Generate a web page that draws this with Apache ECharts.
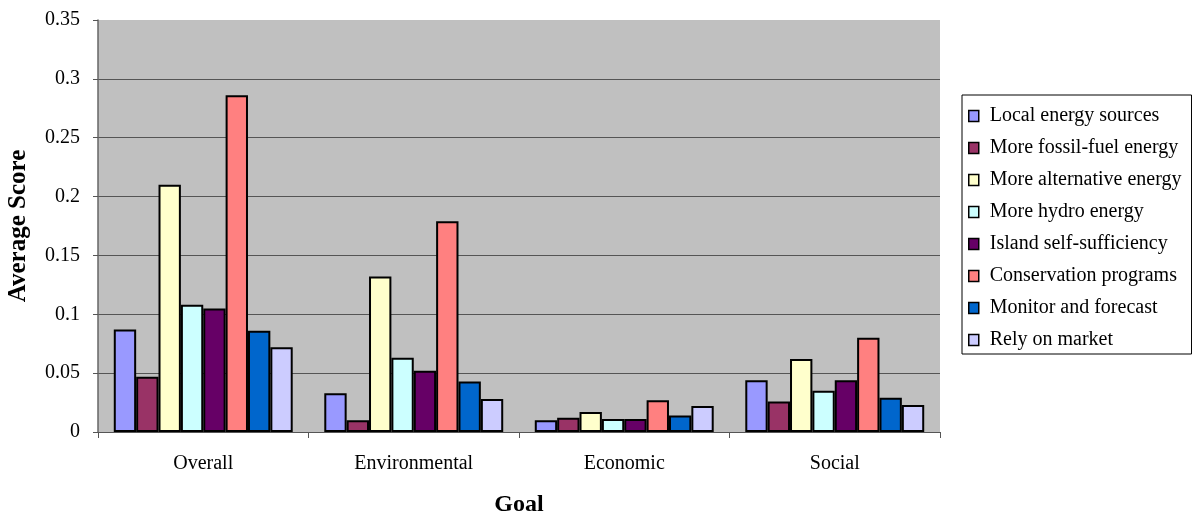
<!DOCTYPE html>
<html>
<head>
<meta charset="utf-8">
<script src="https://cdn.jsdelivr.net/npm/echarts@6/dist/echarts.min.js"></script>
<style>
  html, body { margin: 0; padding: 0; background: #fff; }
  #chart { width: 1192px; height: 514px; }
</style>
</head>
<body>
<div id="chart"></div>
<script>
var goals = ['Overall', 'Environmental', 'Economic', 'Social'];

var localEnergy = [0.087, 0.033, 0.010, 0.044];
var fossilFuel = [0.047, 0.010, 0.012, 0.026];
var alternative = [0.210, 0.132, 0.017, 0.062];
var hydro = [0.108, 0.063, 0.011, 0.035];
var selfSufficiency = [0.105, 0.052, 0.011, 0.044];
var conservation = [0.286, 0.179, 0.027, 0.080];
var monitorForecast = [0.086, 0.043, 0.014, 0.029];
var relyOnMarket = [0.072, 0.028, 0.022, 0.023];

var seriesNames = [
  'Local energy sources',
  'More fossil-fuel energy',
  'More alternative energy',
  'More hydro energy',
  'Island self-sufficiency',
  'Conservation programs',
  'Monitor and forecast',
  'Rely on market'
];
var seriesData = [localEnergy, fossilFuel, alternative, hydro, selfSufficiency, conservation, monitorForecast, relyOnMarket];
var colors = ['#9999ff', '#993366', '#ffffcc', '#ccffff', '#660066', '#ff8080', '#0066cc', '#ccccff'];

var font = '"Liberation Serif", "Times New Roman", serif';

var chart = echarts.init(document.getElementById('chart'));

var series = seriesNames.map(function (name, i) {
  return {
    name: name,
    type: 'bar',
    data: seriesData[i],
    barGap: '0%',
    barCategoryGap: '15%',
    itemStyle: {
      color: colors[i],
      borderColor: '#000',
      borderWidth: 2
    }
  };
});

// no grid line along the top edge (0.35), as in the original
var gridColors = ['#555', '#555', '#555', '#555', '#555', '#555', '#555', '#c0c0c0'];

chart.setOption({
  animation: false,
  textStyle: { fontFamily: font },
  grid: {
    left: 98,
    right: 252,
    top: 20,
    bottom: 82,
    containLabel: false,
    outerBoundsMode: 'none',
    show: true,
    backgroundColor: '#c0c0c0',
    borderWidth: 0
  },
  legend: {
    orient: 'vertical',
    left: 962,
    top: 95,
    padding: [11, 10, 4, 6],
    itemGap: 12,
    itemWidth: 10,
    itemHeight: 11,
    icon: 'rect',
    backgroundColor: '#fff',
    borderColor: '#000',
    borderWidth: 1,
    itemStyle: { borderColor: '#000', borderWidth: 1.5 },
    textStyle: { fontFamily: font, fontSize: 20, color: '#000', padding: [0, 0, 0, 6] },
    data: seriesNames
  },
  xAxis: {
    type: 'category',
    data: goals,
    name: 'Goal',
    nameLocation: 'middle',
    nameGap: 61,
    nameTextStyle: { fontFamily: font, fontSize: 24, fontWeight: 'bold', color: '#000' },
    axisLine: { lineStyle: { color: '#555', width: 1 } },
    axisTick: { show: true, length: 6, lineStyle: { color: '#555' } },
    axisLabel: { fontFamily: font, fontSize: 20, color: '#000', margin: 22 }
  },
  yAxis: {
    type: 'value',
    min: 0,
    max: 0.35,
    interval: 0.05,
    name: 'Average Score',
    nameLocation: 'middle',
    nameGap: 67,
    nameTextStyle: { fontFamily: font, fontSize: 25, fontWeight: 'bold', color: '#000' },
    axisLine: { show: true, lineStyle: { color: '#666', width: 1.5 } },
    axisTick: { show: true, length: 5, lineStyle: { color: '#555' } },
    axisLabel: {
      fontFamily: font, fontSize: 20, color: '#000', margin: 18,
      formatter: function (v) { return String(parseFloat(v.toFixed(2))); }
    },
    splitLine: { show: true, lineStyle: { color: gridColors, width: 1 } }
  },
  series: series
});
</script>
</body>
</html>
